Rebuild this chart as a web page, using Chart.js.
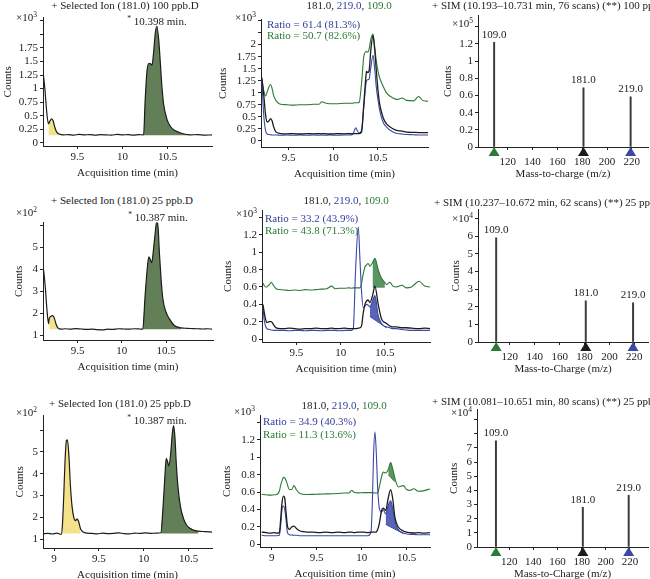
<!DOCTYPE html>
<html>
<head>
<meta charset="utf-8">
<script src="https://cdn.jsdelivr.net/npm/chart.js@4.4.0/dist/chart.umd.min.js"></script>
<style>
  body { margin: 0; width: 650px; height: 579px; overflow: hidden; background: #fff; position: relative; font-family: "Liberation Serif", serif; }
  canvas { position: absolute; }
  .txt { position: absolute; white-space: nowrap; font-size: 11px; line-height: 12px; color: #222; }
  .txt sup { font-size: 7.5px; vertical-align: 4px; line-height: 0; }
  .sim { font-size: 11px; }
  .blue { color: #33409e; }
  .green { color: #2a7a36; }
</style>
</head>
<body>
<script>
"use strict";

// ---- tick labels ----
const xTicksTop = [9.5, 10, 10.5];
const xTicksLow = [9, 9.5, 10, 10.5];
const mzTicks = [120, 140, 160, 180, 200, 220];
const yTicksR1L = [0, 0.25, 0.5, 0.75, 1, 1.25, 1.5, 1.75, 2, 2.25];
const yTicksR1M = [0, 0.25, 0.5, 0.75, 1, 1.25, 1.5, 1.75, 2, 2.25, 2.5];
const yTicksR1R = [0, 0.2, 0.4, 0.6, 0.8, 1, 1.2, 1.4];
const yTicksR2L = [1, 2, 3, 4, 5, 6];
const yTicksMid = [0, 0.2, 0.4, 0.6, 0.8, 1, 1.2, 1.4];
const yTicksR2R = [0, 1, 2, 3, 4, 5, 6, 7];
const yTicksR3L = [1, 2, 3, 4, 5, 6];
const yTicksR3R = [0, 1, 2, 3, 4, 5, 6, 7, 8, 9];

// ---- row 1 : 100 ppb ----
const r1Time = [9.12, 9.14, 9.16, 9.18, 9.196, 9.215, 9.233, 9.25, 9.27, 9.30, 9.345, 9.40, 9.46, 9.52, 9.58, 9.64, 9.70, 9.76, 9.82, 9.88, 9.94, 10.0, 10.06, 10.12, 10.18, 10.233, 10.25, 10.27, 10.29, 10.307, 10.326, 10.344, 10.363, 10.38, 10.40, 10.42, 10.437, 10.455, 10.49, 10.53, 10.585, 10.66, 10.75, 10.83, 10.91, 10.99];
const r1Ion181 = [1.31, 1.01, 0.59, 0.35, 0.40, 0.44, 0.40, 0.29, 0.20, 0.16, 0.145, 0.15, 0.14, 0.155, 0.145, 0.15, 0.14, 0.15, 0.145, 0.14, 0.155, 0.145, 0.15, 0.14, 0.15, 0.145, 0.77, 1.31, 1.46, 1.46, 1.43, 1.67, 2.03, 2.15, 1.91, 1.43, 1.01, 0.71, 0.44, 0.30, 0.22, 0.17, 0.145, 0.15, 0.14, 0.145];
const r1Yellow = [9.18, 9.30];
const r1Green = [10.233, 10.75];
const r1Base = 0.14;

const r1mTime = [9.20, 9.22, 9.24, 9.26, 9.278, 9.296, 9.315, 9.33, 9.36, 9.41, 9.48, 9.55, 9.62, 9.70, 9.78, 9.84, 9.87, 9.90, 9.96, 10.04, 10.12, 10.18, 10.215, 10.235, 10.252, 10.27, 10.29, 10.316, 10.341, 10.363, 10.371, 10.385, 10.40, 10.418, 10.444, 10.463, 10.482, 10.50, 10.519, 10.556, 10.593, 10.667, 10.72, 10.77, 10.82, 10.90, 10.955, 11.0, 11.06];
const r1mIon181 = [1.31, 0.97, 0.56, 0.39, 0.41, 0.46, 0.41, 0.30, 0.18, 0.15, 0.145, 0.15, 0.14, 0.15, 0.145, 0.15, 0.145, 0.15, 0.14, 0.15, 0.145, 0.15, 0.145, 0.15, 0.15, 0.15, 0.15, 0.18, 0.76, 1.30, 1.44, 1.42, 1.45, 1.85, 2.19, 1.90, 1.44, 1.05, 0.76, 0.49, 0.355, 0.25, 0.21, 0.20, 0.18, 0.175, 0.17, 0.17, 0.17];
const r1mIon219 = [1.27, 0.55, 0.22, 0.14, 0.13, 0.125, 0.12, 0.12, 0.12, 0.115, 0.12, 0.115, 0.12, 0.115, 0.12, 0.115, 0.12, 0.115, 0.12, 0.115, 0.12, 0.12, 0.13, 0.21, 0.27, 0.20, 0.16, 0.22, 0.70, 1.15, 1.24, 1.27, 1.28, 1.50, 1.78, 1.50, 1.10, 0.85, 0.63, 0.39, 0.29, 0.18, 0.15, 0.14, 0.13, 0.125, 0.12, 0.12, 0.12];
const r1mIon109 = [1.25, 1.05, 0.93, 1.02, 1.12, 1.17, 1.08, 0.95, 0.83, 0.76, 0.75, 0.74, 0.75, 0.75, 0.76, 0.76, 0.81, 0.79, 0.77, 0.77, 0.78, 0.78, 0.78, 0.79, 0.79, 0.79, 0.80, 1.20, 1.75, 1.85, 1.86, 1.84, 1.90, 2.10, 2.22, 1.95, 1.65, 1.45, 1.31, 1.14, 1.00, 0.89, 0.86, 0.89, 0.84, 0.83, 0.92, 0.84, 0.82];

const r1Mz = [109, 181, 219];
const r1Spec = [1.22, 0.69, 0.585];

// ---- row 2 : 25 ppb ----
const r2Time = [9.117, 9.135, 9.154, 9.173, 9.18, 9.20, 9.22, 9.24, 9.26, 9.278, 9.316, 9.36, 9.42, 9.48, 9.54, 9.60, 9.66, 9.72, 9.78, 9.84, 9.90, 9.96, 10.02, 10.08, 10.14, 10.20, 10.237, 10.263, 10.286, 10.305, 10.32, 10.338, 10.357, 10.376, 10.395, 10.41, 10.425, 10.444, 10.462, 10.50, 10.538, 10.594, 10.67, 10.74, 10.80, 10.86, 10.92, 10.97, 11.02];
const r2Ion181 = [3.96, 3.22, 2.19, 1.52, 1.74, 1.86, 1.89, 1.74, 1.47, 1.33, 1.27, 1.29, 1.27, 1.30, 1.28, 1.26, 1.27, 1.25, 1.24, 1.27, 1.26, 1.29, 1.28, 1.27, 1.29, 1.28, 1.27, 2.78, 3.96, 4.56, 4.44, 4.29, 4.85, 5.59, 6.19, 5.89, 4.70, 3.52, 2.70, 2.04, 1.74, 1.44, 1.33, 1.31, 1.30, 1.29, 1.28, 1.29, 1.27];
const r2Yellow = [9.18, 9.278];
const r2Green = [10.237, 10.67];
const r2Base = 1.27;

const r2mTime = [9.12, 9.135, 9.15, 9.165, 9.18, 9.195, 9.214, 9.24, 9.27, 9.315, 9.36, 9.42, 9.48, 9.54, 9.60, 9.66, 9.72, 9.78, 9.84, 9.90, 9.936, 9.98, 10.04, 10.10, 10.124, 10.142, 10.17, 10.199, 10.218, 10.237, 10.255, 10.274, 10.293, 10.31, 10.33, 10.36, 10.387, 10.424, 10.462, 10.50, 10.519, 10.556, 10.59, 10.63, 10.695, 10.74, 10.80, 10.887, 10.95, 11.01];
const r2mIon181 = [0.40, 0.31, 0.23, 0.19, 0.196, 0.20, 0.20, 0.166, 0.128, 0.12, 0.12, 0.125, 0.12, 0.115, 0.12, 0.12, 0.125, 0.12, 0.12, 0.125, 0.12, 0.12, 0.125, 0.12, 0.12, 0.12, 0.12, 0.125, 0.13, 0.158, 0.30, 0.40, 0.44, 0.45, 0.42, 0.50, 0.61, 0.40, 0.23, 0.19, 0.18, 0.15, 0.14, 0.14, 0.13, 0.13, 0.125, 0.12, 0.125, 0.12];
const r2mIon219 = [0.376, 0.22, 0.15, 0.12, 0.113, 0.11, 0.105, 0.10, 0.10, 0.10, 0.10, 0.095, 0.10, 0.10, 0.095, 0.10, 0.10, 0.095, 0.10, 0.10, 0.10, 0.095, 0.10, 0.10, 0.10, 0.12, 0.835, 1.29, 0.91, 0.53, 0.36, 0.38, 0.40, 0.39, 0.37, 0.44, 0.50, 0.27, 0.18, 0.145, 0.14, 0.13, 0.12, 0.12, 0.11, 0.105, 0.10, 0.10, 0.10, 0.10];
const r2mIon109 = [0.647, 0.617, 0.60, 0.60, 0.615, 0.628, 0.655, 0.617, 0.58, 0.57, 0.565, 0.56, 0.565, 0.56, 0.57, 0.565, 0.57, 0.575, 0.58, 0.61, 0.58, 0.585, 0.585, 0.59, 0.585, 0.59, 0.59, 0.59, 0.59, 0.65, 0.75, 0.83, 0.855, 0.87, 0.84, 0.88, 0.93, 0.80, 0.70, 0.65, 0.63, 0.655, 0.61, 0.60, 0.62, 0.59, 0.60, 0.666, 0.61, 0.60];
const r2mShade109 = [10.342, 10.51];
const r2mBase109 = 0.59;
const r2mShade219 = [10.33, 10.52];
const r2mBase219 = [[10.33, 0.26], [10.519, 0.13]];

const r2Spec = [5.9, 2.33, 2.22];

// ---- row 3 : 25 ppb ----
const r3Time = [8.877, 8.93, 8.98, 9.03, 9.08, 9.093, 9.108, 9.123, 9.138, 9.149, 9.164, 9.183, 9.20, 9.22, 9.239, 9.257, 9.276, 9.295, 9.325, 9.362, 9.42, 9.48, 9.54, 9.60, 9.66, 9.72, 9.78, 9.84, 9.90, 9.96, 10.02, 10.08, 10.14, 10.19, 10.213, 10.235, 10.25, 10.265, 10.28, 10.30, 10.317, 10.332, 10.347, 10.362, 10.38, 10.407, 10.444, 10.48, 10.537, 10.61, 10.68, 10.76];
const r3Ion181 = [1.25, 1.27, 1.24, 1.28, 1.22, 1.63, 2.98, 4.63, 5.52, 5.55, 4.93, 3.43, 2.53, 2.00, 1.85, 1.93, 1.78, 1.48, 1.33, 1.28, 1.27, 1.25, 1.28, 1.26, 1.27, 1.29, 1.26, 1.25, 1.28, 1.27, 1.29, 1.27, 1.28, 1.30, 2.38, 3.88, 4.70, 4.55, 4.36, 4.93, 5.82, 6.20, 5.67, 4.48, 3.43, 2.53, 1.93, 1.63, 1.45, 1.37, 1.35, 1.33];
const r3Yellow = [9.08, 9.30];
const r3Green = [10.19, 10.61];
const r3Base = 1.26;

const r3mTime = [8.889, 8.94, 8.98, 9.03, 9.056, 9.085, 9.10, 9.115, 9.13, 9.144, 9.16, 9.174, 9.196, 9.222, 9.248, 9.278, 9.315, 9.39, 9.46, 9.53, 9.60, 9.67, 9.74, 9.81, 9.86, 9.889, 9.915, 9.96, 10.02, 10.07, 10.104, 10.119, 10.133, 10.148, 10.163, 10.178, 10.196, 10.222, 10.24, 10.267, 10.296, 10.322, 10.344, 10.37, 10.407, 10.463, 10.50, 10.537, 10.58, 10.63, 10.685, 10.76];
const r3mIon181 = [0.142, 0.135, 0.13, 0.135, 0.13, 0.135, 0.29, 0.48, 0.555, 0.536, 0.367, 0.217, 0.172, 0.199, 0.21, 0.18, 0.154, 0.142, 0.14, 0.135, 0.14, 0.135, 0.14, 0.135, 0.14, 0.14, 0.135, 0.14, 0.14, 0.135, 0.14, 0.14, 0.14, 0.14, 0.142, 0.17, 0.236, 0.39, 0.416, 0.39, 0.536, 0.63, 0.536, 0.31, 0.20, 0.154, 0.14, 0.135, 0.131, 0.135, 0.13, 0.135];
const r3mIon219 = [0.105, 0.10, 0.10, 0.10, 0.10, 0.105, 0.217, 0.405, 0.442, 0.412, 0.274, 0.142, 0.112, 0.108, 0.105, 0.105, 0.10, 0.10, 0.10, 0.10, 0.10, 0.10, 0.10, 0.10, 0.10, 0.10, 0.10, 0.10, 0.10, 0.10, 0.142, 0.48, 1.04, 1.29, 1.05, 0.65, 0.42, 0.37, 0.40, 0.35, 0.45, 0.50, 0.42, 0.26, 0.17, 0.13, 0.12, 0.115, 0.115, 0.11, 0.11, 0.11];
const r3mIon109 = [0.574, 0.57, 0.566, 0.57, 0.574, 0.611, 0.68, 0.73, 0.77, 0.765, 0.735, 0.69, 0.63, 0.63, 0.675, 0.622, 0.585, 0.574, 0.575, 0.578, 0.58, 0.582, 0.585, 0.59, 0.59, 0.622, 0.60, 0.592, 0.595, 0.595, 0.595, 0.595, 0.59, 0.592, 0.59, 0.592, 0.66, 0.78, 0.83, 0.82, 0.86, 0.94, 0.874, 0.76, 0.66, 0.675, 0.63, 0.62, 0.64, 0.61, 0.615, 0.637];
const r3mShade109 = [10.28, 10.38];
const r3mBase109 = [[10.296, 0.80], [10.37, 0.72]];
const r3mShade219 = [10.267, 10.463];
const r3mBase219 = [[10.267, 0.23], [10.463, 0.125]];

const r3Spec = [7.5, 2.8, 3.65];
const specLabels = ['109.0', '181.0', '219.0'];

// ---- styles ----
const FONT = {family: 'Liberation Serif', size: 11};
const INK = '#222';
const C181 = '#1c1c1c', C219 = '#3a48a8', C109 = '#2b7a35';
const YELLOW = '#f4e28a', OLIVE = '#627f58';
const SHADE109 = 'rgba(60,130,70,0.85)', SHADE219 = 'rgba(60,72,170,0.85)';
const MARKS = ['#2b7a35', '#1c1c1c', '#3a48a8'];

function pts(times, vals) { return times.map((t, i) => ({x: t, y: vals[i]})); }
function within(p, win) { return p.filter(q => q.x >= win[0] && q.x <= win[1]); }
function pairs(a) { return a.map(q => ({x: q[0], y: q[1]})); }

function place(rect, yw) {
  const [L, T, R, B] = rect;
  const c = document.createElement('canvas');
  c.width = R - L + yw + 4;
  c.height = B - T + 6 + 34;
  c.style.left = (L - yw) + 'px';
  c.style.top = (T - 6) + 'px';
  document.body.appendChild(c);
  return c;
}

function xAxis(min, max, ticks, title, pad) {
  return {
    type: 'linear', min: min, max: max, offset: false,
    afterBuildTicks: s => { s.ticks = ticks.map(v => ({value: v})); },
    afterFit: s => { s.height = 34; },
    ticks: {font: FONT, color: INK, padding: pad, maxRotation: 0, minRotation: 0, autoSkip: false,
      callback: (v, i) => String(ticks[i])},
    grid: {offset: false, drawOnChartArea: false, drawTicks: true, tickLength: 3, color: INK},
    border: {color: INK},
    title: {display: true, text: title, font: FONT, color: INK, padding: 0}
  };
}

function yAxis(min, max, ticks, labelMax, yw) {
  return {
    type: 'linear', min: min, max: max, offset: false,
    afterBuildTicks: s => { s.ticks = ticks.map(v => ({value: v})); },
    afterFit: s => { s.width = yw; },
    ticks: {font: FONT, color: INK, padding: 2, autoSkip: false, callback: v => (v <= labelMax + 1e-9 ? String(v) : '')},
    grid: {offset: false, drawOnChartArea: false, drawTicks: true, tickLength: 3, color: INK},
    border: {color: INK},
    title: {display: true, text: 'Counts', font: FONT, color: INK, padding: 0}
  };
}

function baseOpts(x, y) {
  return {
    responsive: false, animation: false, devicePixelRatio: 1,
    layout: {padding: {top: 6, right: 4, left: 0, bottom: 0}, autoPadding: false},
    plugins: {legend: {display: false}, tooltip: {enabled: false}, title: {display: false}},
    scales: {x: x, y: y}
  };
}

function trace(p, color, w) {
  return {data: p, borderColor: color, borderWidth: w || 1.2, pointRadius: 0, fill: false, cubicInterpolationMode: 'monotone'};
}
function area(p, color, fill) {
  return {data: p, borderWidth: 0, borderColor: color, backgroundColor: color, pointRadius: 0, fill: fill, cubicInterpolationMode: 'monotone'};
}
function edge(p, color) {
  return {data: p, borderWidth: 1, borderColor: color, pointRadius: 0, fill: false};
}

// single ion chromatogram with integrated peaks
function ionChart(rect, yw, xr, xt, yr, yt, labelMax, time, vals, yellow, green, base) {
  const p = pts(time, vals);
  new Chart(place(rect, yw), {
    type: 'line',
    data: {datasets: [
      trace(p, C181, 1.2),
      area(within(p, yellow), YELLOW, {value: base}),
      area(within(p, green), OLIVE, {value: base})
    ]},
    options: baseOpts(xAxis(xr[0], xr[1], xt, 'Acquisition time (min)', 2), yAxis(yr[0], yr[1], yt, labelMax, yw))
  });
}

// overlay of the three ions, optional shaded ratio windows
function overlayChart(rect, yw, xr, xt, yr, yt, labelMax, time, a, b, c, shades) {
  const pa = pts(time, a), pb = pts(time, b), pc = pts(time, c);
  const ds = [trace(pa, C181, 1.3), trace(pb, C219, 1.1), trace(pc, C109, 1.1)];
  if (shades) {
    const g = shades.g, bl = shades.b;
    if (Array.isArray(g.base)) {
      ds.push(area(within(pc, g.win), SHADE109, ds.length + 1));
      ds.push(edge(pairs(g.base), C109));
    } else {
      ds.push(area(within(pc, g.win), SHADE109, {value: g.base}));
    }
    ds.push(area(within(pb, bl.win), SHADE219, ds.length + 1));
    ds.push(edge(pairs(bl.base), C219));
  }
  new Chart(place(rect, yw), {
    type: 'line',
    data: {datasets: ds},
    options: baseOpts(xAxis(xr[0], xr[1], xt, 'Acquisition time (min)', 2), yAxis(yr[0], yr[1], yt, labelMax, yw))
  });
}

// SIM spectrum: stems, value labels and coloured ion markers
function specChart(rect, yw, xr, yr, yt, labelMax, counts, title) {
  const marks = {
    id: 'marks',
    afterDatasetsDraw(chart) {
      const ctx = chart.ctx, xs = chart.scales.x, bottom = chart.chartArea.bottom;
      ctx.save();
      ctx.font = '11px "Liberation Serif"';
      ctx.fillStyle = INK;
      ctx.textAlign = 'center';
      ctx.textBaseline = 'bottom';
      chart.getDatasetMeta(0).data.forEach((bar, i) => {
        ctx.fillText(specLabels[i], bar.x, bar.y - 2);
      });
      r1Mz.forEach((m, i) => {
        const x = xs.getPixelForValue(m);
        ctx.beginPath();
        ctx.moveTo(x, bottom);
        ctx.lineTo(x - 5.5, bottom + 9);
        ctx.lineTo(x + 5.5, bottom + 9);
        ctx.closePath();
        ctx.fillStyle = MARKS[i];
        ctx.fill();
      });
      ctx.restore();
    }
  };
  new Chart(place(rect, yw), {
    type: 'bar',
    data: {datasets: [{data: r1Mz.map((m, i) => ({x: m, y: counts[i]})), backgroundColor: '#3a3a3a', barThickness: 1.3, borderWidth: 0}]},
    options: baseOpts(xAxis(xr[0], xr[1], mzTicks, title, 6), yAxis(yr[0], yr[1], yt, labelMax, yw)),
    plugins: [marks]
  });
}

// ---- panels ----
ionChart([43, 15, 212, 146], 41, [9.12, 10.99], xTicksTop, [-0.06, 2.31], yTicksR1L, 1.75, r1Time, r1Ion181, r1Yellow, r1Green, r1Base);
overlayChart([261, 17, 428, 147], 44, [9.19, 11.06], xTicksTop, [-0.13, 2.52], yTicksR1M, 2, r1mTime, r1mIon181, r1mIon219, r1mIon109, null);
specChart([478, 13, 648, 147], 36, [96, 233], [0, 1.53], yTicksR1R, 1.2, r1Spec, 'Mass-to-charge (m/z)');

ionChart([43, 220, 213, 340], 30, [9.11, 11.03], xTicksTop, [0.78, 6.11], yTicksR2L, 5, r2Time, r2Ion181, r2Yellow, r2Green, r2Base);
overlayChart([262, 208, 430, 342], 40, [9.11, 11.01], xTicksTop, [-0.034, 1.48], yTicksMid, 1.2, r2mTime, r2mIon181, r2mIon219, r2mIon109,
  {g: {win: r2mShade109, base: r2mBase109}, b: {win: r2mShade219, base: r2mBase219}});
specChart([478, 207, 648, 342], 28, [94.4, 231], [0, 7.5], yTicksR2R, 6, r2Spec, 'Mass-to-Charge (m/z)');

ionChart([43, 413, 212, 548], 29, [8.877, 10.76], xTicksLow, [0.6, 6.66], yTicksR3L, 5, r3Time, r3Ion181, r3Yellow, r3Green, r3Base);
overlayChart([260, 413, 430, 547], 39, [8.87, 10.76], xTicksLow, [-0.03, 1.48], yTicksMid, 1.2, r3mTime, r3mIon181, r3mIon219, r3mIon109,
  {g: {win: r3mShade109, base: r3mBase109}, b: {win: r3mShade219, base: r3mBase219}});
specChart([477, 407, 648, 547], 29, [93.3, 235], [0, 9.7], yTicksR3R, 7, r3Spec, 'Mass-to-Charge (m/z)');

// ---- text ----
function text(html, x, y, align, cls) {
  const d = document.createElement('div');
  d.className = 'txt' + (cls ? ' ' + cls : '');
  d.innerHTML = html;
  d.style.left = x + 'px';
  d.style.top = (y - 6) + 'px';
  if (align === 'c') d.style.transform = 'translateX(-50%)';
  if (align === 'r') d.style.transform = 'translateX(-100%)';
  document.body.appendChild(d);
}
const ionsTitle = '181.0, <span class="blue">219.0</span>, <span class="green">109.0</span>';
const star = '<sup>*</sup> ';

text('+ Selected Ion (181.0) 100 ppb.D', 125, 5, 'c');
text(star + '10.398 min.', 157, 21, 'c');
text(ionsTitle, 349, 5, 'c');
text('+ SIM (10.193–10.731 min, 76 scans) (**) 100 ppb.D', 432, 5, 'l', 'sim');
text('Ratio = 61.4 (81.3%)', 267, 24, 'l', 'blue');
text('Ratio = 50.7 (82.6%)', 267, 35, 'l', 'green');

text('+ Selected Ion (181.0) 25 ppb.D', 122, 200, 'c');
text(star + '10.387 min.', 158, 217, 'c');
text(ionsTitle, 346, 200, 'c');
text('+ SIM (10.237–10.672 min, 62 scans) (**) 25 ppb.D', 434, 202, 'l', 'sim');
text('Ratio = 33.2 (43.9%)', 265, 218, 'l', 'blue');
text('Ratio = 43.8 (71.3%)', 265, 230, 'l', 'green');

text('+ Selected Ion (181.0) 25 ppb.D', 120, 403, 'c');
text(star + '10.387 min.', 157, 420, 'c');
text(ionsTitle, 344, 405, 'c');
text('+ SIM (10.081–10.651 min, 80 scans) (**) 25 ppb.D', 432, 401, 'l', 'sim');
text('Ratio = 34.9 (40.3%)', 263, 421, 'l', 'blue');
text('Ratio = 11.3 (13.6%)', 263, 434, 'l', 'green');

text('×10<sup>3</sup>', 37, 17, 'r');
text('×10<sup>3</sup>', 256, 17, 'r');
text('×10<sup>5</sup>', 473, 23, 'r');
text('×10<sup>2</sup>', 37, 212, 'r');
text('×10<sup>3</sup>', 257, 213, 'r');
text('×10<sup>4</sup>', 473, 218, 'r');
text('×10<sup>2</sup>', 37, 412, 'r');
text('×10<sup>3</sup>', 255, 411, 'r');
text('×10<sup>4</sup>', 472, 412, 'r');
</script>
</body>
</html>
